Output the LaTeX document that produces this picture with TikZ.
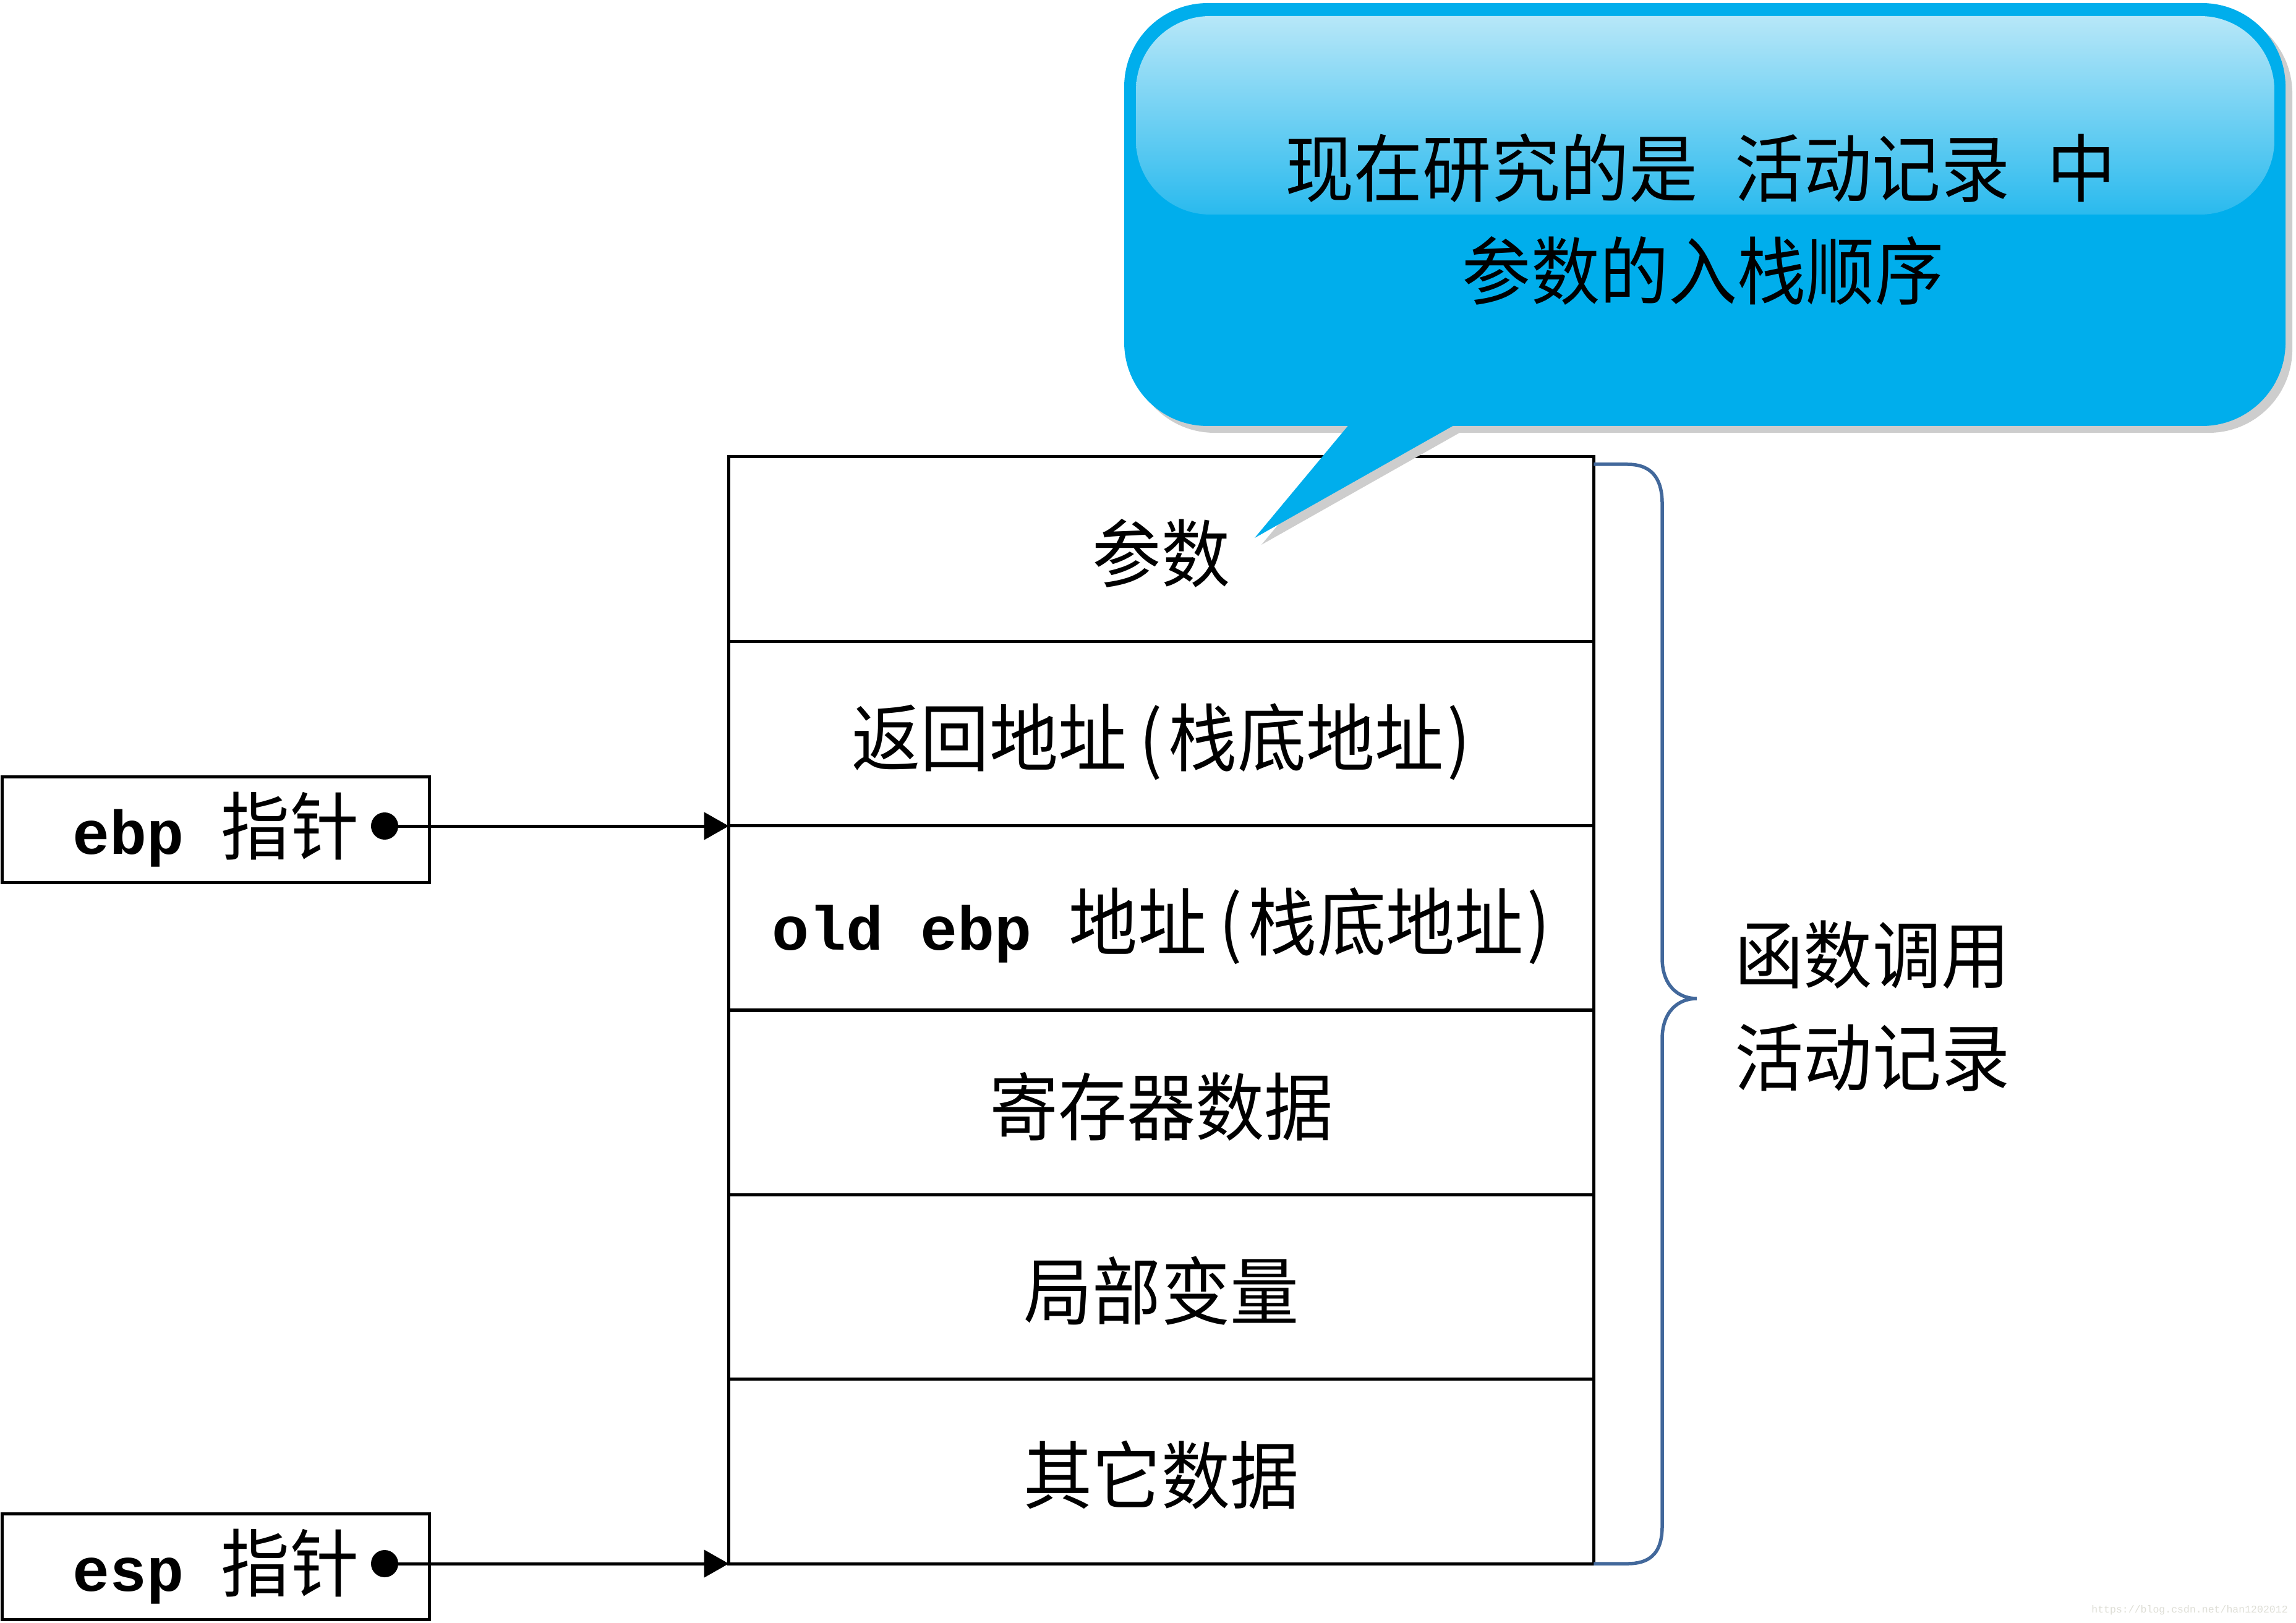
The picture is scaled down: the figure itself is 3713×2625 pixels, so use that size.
\documentclass[tikz,border=0pt]{standalone}
\usepackage{fontspec}
\usetikzlibrary{arrows.meta}
\newfontfamily\cjk{Noto Sans CJK SC}[FakeStretch=0.93]
\newfontfamily\monof{Liberation Mono}
\newcommand\bigcjk{\cjk\fontsize{34pt}{47pt}\selectfont}
\newcommand\monob{\monof\bfseries\fontsize{28.45pt}{34pt}\selectfont}
\newcommand\lpr{\hspace{0.2cm}(\hspace{0.1cm}}
\newcommand\rpr{\hspace{0.06cm})}
\definecolor{calloutc}{RGB}{0,174,236}
\definecolor{glosstop}{RGB}{183,231,248}
\definecolor{glossbot}{RGB}{42,186,238}
\definecolor{shadowc}{RGB}{205,205,205}
\definecolor{bracec}{RGB}{66,104,155}
\definecolor{wmc}{RGB}{222,222,214}
\begin{document}
\begin{tikzpicture}[x=0.01cm,y=-0.01cm,
  cell/.style={draw, line width=0.05cm, minimum width=13.98cm, minimum height=2.983cm, outer sep=0pt, inner sep=0pt, font=\bigcjk, text height=1.1cm, text depth=0.06cm},
  ptr/.style={draw, line width=0.05cm, minimum width=6.91cm, minimum height=1.70cm, outer sep=0pt, inner sep=0pt, font=\bigcjk},
  ptrdot/.style={circle, fill=black, inner sep=0pt, minimum size=0.44cm},
  ptrarrow/.style={line width=0.05cm, -{Triangle[length=0.4cm,width=0.44cm]}},
  bracestyle/.style={draw=bracec, line width=0.055cm},
  lbl/.style={font=\bigcjk, inner sep=0pt}]
\useasboundingbox (0,0) rectangle (3713,2625);
\fill[white] (0,0) rectangle (3713,2625);

% stack of the activation record
\node[cell] (r1) at (1878,888.2) {参数};
\node[cell] (r2) at (1878,1186.5) {返回地址\lpr 栈底地址\rpr};
\node[cell] (r3) at (1878,1484.8) {{\monob old ebp }地址\lpr 栈底地址\rpr};
\node[cell] (r4) at (1878,1783.2) {寄存器数据};
\node[cell] (r5) at (1878,2081.5) {局部变量};
\node[cell] (r6) at (1878,2379.8) {其它数据};

% pointers
\node[ptr] (ebp) at (349,1342) {{\monob ebp }指针};
\node[ptrdot] (ebpdot) at (622,1336) {};
\draw[ptrarrow] (ebpdot.center) -- (ebpdot -| r3.west);

\node[ptr] (esp) at (349,2534) {{\monob esp }指针};
\node[ptrdot] (espdot) at (622,2529) {};
\draw[ptrarrow] (espdot.center) -- (espdot -| r6.west);

% brace
\draw[bracestyle] (r1.north east |- 0,751) -- (2632,751)
  .. controls (2672,751) and (2688,775) .. (2688,815)
  -- (2688,1550)
  .. controls (2688,1592) and (2712,1615) .. (2744,1615)
  .. controls (2712,1615) and (2688,1638) .. (2688,1680)
  -- (2688,2468)
  .. controls (2688,2508) and (2672,2529) .. (2632,2529)
  -- (r6.south east);
\node[lbl] (fn1) at (3028,1544) {函数调用};
\node[lbl] (fn2) at (3028,1710) {活动记录};

% callout
\fill[shadowc, rounded corners=1.35cm] (1829,16) rectangle (3707,700);
\fill[shadowc] (2199,690) -- (2040,881) -- (2378,690) -- cycle;
\fill[calloutc, rounded corners=1.35cm] (1818,5) rectangle (3696,689);
\fill[calloutc] (2188,679) -- (2029,870) -- (2367,679) -- cycle;
\shade[top color=glosstop, bottom color=glossbot, rounded corners=1.2cm] (1837,26) rectangle (3678,347);
\node[lbl] (t1) at (2750,272) {现在研究的是\hspace{0.6cm}活动记录\hspace{0.6cm}中};
\node[lbl] (t2) at (2754,438) {参数的入栈顺序};

% watermark
\node[text=wmc, font=\monof\fontsize{4.7pt}{6pt}\selectfont, inner sep=0pt] (wm) at (3541,2604) {https://blog.csdn.net/han1202012};
\end{tikzpicture}
\end{document}
